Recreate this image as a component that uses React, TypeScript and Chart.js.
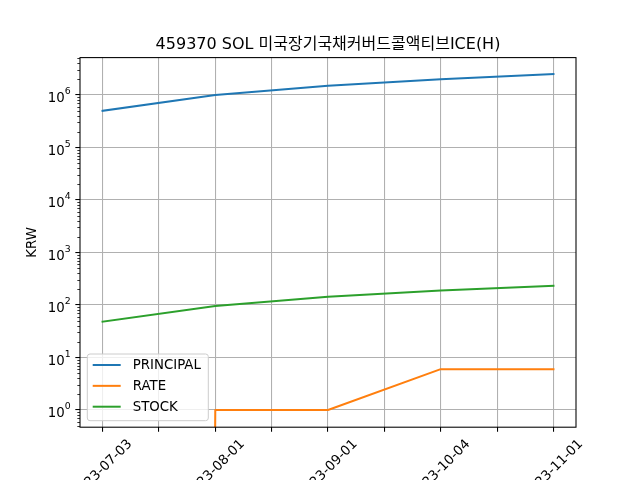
import React, { useEffect, useRef } from "react";
import { Chart, registerables } from "chart.js";

Chart.register(...registerables);

const TITLE = "459370 SOL 미국장기국채커버드콜액티브ICE(H)";
const Y_LABEL = "KRW";
const dates = ["2023-07-03", "2023-08-01", "2023-09-01", "2023-10-04", "2023-11-01"];
const principal = [500000, 1000000, 1500000, 2000000, 2500000];
const rate = [0, 1, 1, 6, 6];
const stock = [48, 96, 143, 188, 233];
const seriesNames = ["PRINCIPAL", "RATE", "STOCK"];
const seriesColors = ["#1f77b4", "#ff7f0e", "#2ca02c"];
const yDecades = [1, 10, 100, 1000, 10000, 100000, 1000000];
const xTickSteps = [0, 0.5, 1, 1.5, 2, 2.5, 3, 3.5, 4];

const FONT = "'DejaVu Sans', 'Noto Sans CJK KR', sans-serif";

// matplotlib clips non-positive values on a log axis to a tiny number
const logClip = (v: number) => (v > 0 ? v : 1e-300);

const decor = {
  id: "decor",
  afterDatasetsDraw(chart: any) {
    const { ctx, chartArea: a, scales } = chart;
    const xs = scales.x;
    const ys = scales.y;
    ctx.save();
    // frame
    ctx.strokeStyle = "#000";
    ctx.lineWidth = 1.07;
    ctx.strokeRect(a.left, a.top, a.right - a.left, a.bottom - a.top);
    // minor y ticks
    ctx.lineWidth = 0.8;
    for (let e = -2; e <= 7; e++) {
      for (let s = 2; s <= 9; s++) {
        const v = s * Math.pow(10, e);
        if (v < ys.min || v > ys.max) continue;
        const py = Math.round(ys.getPixelForValue(v)) + 0.5;
        ctx.beginPath();
        ctx.moveTo(a.left - 2.67, py);
        ctx.lineTo(a.left, py);
        ctx.stroke();
      }
    }
    ctx.fillStyle = "#000";
    // y tick labels 10^n
    yDecades.forEach((v) => {
      const py = ys.getPixelForValue(v);
      const exp = String(Math.round(Math.log10(v)));
      ctx.font = `13.33px ${FONT}`;
      const w1 = ctx.measureText("10").width;
      ctx.font = `9.33px ${FONT}`;
      const w2 = ctx.measureText(exp).width;
      const right = a.left - 4.67 - 4.67;
      ctx.textAlign = "left";
      ctx.textBaseline = "alphabetic";
      ctx.font = `13.33px ${FONT}`;
      ctx.fillText("10", right - w1 - w2, py + 7.3);
      ctx.font = `9.33px ${FONT}`;
      ctx.fillText(exp, right - w2, py - 0.5);
    });
    // x tick labels, rotated 45, centered
    ctx.font = `13.33px ${FONT}`;
    dates.forEach((d, i) => {
      const px = xs.getPixelForValue(i);
      const w = ctx.measureText(d).width;
      const h = 15.5;
      const half = ((w + h) * Math.SQRT1_2) / 2;
      const cy = a.bottom + 4.67 + 4.67 + half;
      ctx.save();
      ctx.translate(px, cy);
      ctx.rotate(-Math.PI / 4);
      ctx.textAlign = "center";
      ctx.textBaseline = "middle";
      ctx.fillText(d, 0, 0);
      ctx.restore();
    });
    // y axis label
    ctx.save();
    ctx.translate(32.5, (a.top + a.bottom) / 2);
    ctx.rotate(-Math.PI / 2);
    ctx.textAlign = "center";
    ctx.textBaseline = "middle";
    ctx.font = `13.33px ${FONT}`;
    ctx.fillText(Y_LABEL, 0, 0);
    ctx.restore();
    // title
    ctx.font = `16px ${FONT}`;
    ctx.textAlign = "center";
    ctx.textBaseline = "alphabetic";
    ctx.fillText(TITLE, (a.left + a.right) / 2, 49);
    ctx.restore();
  },
  afterDraw(chart: any) {
    const { ctx, chartArea: a } = chart;
    ctx.save();
    const x0 = a.left + 7.3;
    const y0 = a.bottom - 73.2;
    const w = 121;
    const h = 66.7;
    ctx.beginPath();
    ctx.roundRect(x0, y0, w, h, 2.7);
    ctx.fillStyle = "rgba(255,255,255,0.8)";
    ctx.fill();
    ctx.strokeStyle = "#cccccc";
    ctx.lineWidth = 1;
    ctx.stroke();
    chart.data.datasets.forEach((ds: any, i: number) => {
      const yy = y0 + 11 + i * 20.85;
      ctx.strokeStyle = ds.borderColor;
      ctx.lineWidth = 2;
      ctx.lineCap = "butt";
      ctx.beginPath();
      ctx.moveTo(x0 + 5.4, yy);
      ctx.lineTo(x0 + 33.4, yy);
      ctx.stroke();
      ctx.fillStyle = "#000";
      ctx.font = `13.33px ${FONT}`;
      ctx.textAlign = "left";
      ctx.textBaseline = "middle";
      ctx.fillText(ds.label, x0 + 45.4, yy + 0.5);
    });
    ctx.restore();
  },
};

export default function App() {
  const ref = useRef<HTMLCanvasElement | null>(null);
  useEffect(() => {
    document.body.style.margin = "0";
    const canvas = ref.current;
    if (!canvas) return;
    const series = [principal, rate, stock];
    const chart = new Chart(canvas, {
      type: "line",
      data: {
        datasets: series.map((vals, si) => ({
          label: seriesNames[si],
          data: vals.map((v, i) => ({ x: i, y: logClip(v) })),
          borderColor: seriesColors[si],
          backgroundColor: seriesColors[si],
          borderWidth: 2,
          pointRadius: 0,
          tension: 0,
          borderJoinStyle: "round",
          borderCapStyle: "square",
          fill: false,
        })),
      },
      options: {
        animation: false,
        responsive: false,
        devicePixelRatio: 1,
        layout: { padding: { top: 57.6, right: 64, left: 0, bottom: 0 } },
        plugins: {
          legend: { display: false },
          title: { display: false },
          tooltip: { enabled: false },
        },
        scales: {
          x: {
            type: "linear",
            min: -0.2,
            max: 4.2,
            afterBuildTicks: (s: any) => {
              s.ticks = xTickSteps.map((v) => ({ value: v }));
            },
            afterFit: (s: any) => {
              s.height = 52.8;
            },
            ticks: { display: false },
            grid: {
              color: "#b0b0b0",
              lineWidth: 1.07,
              tickColor: "#000",
              tickLength: 4.67,
              tickWidth: 1.07,
              drawTicks: true,
            },
            border: { display: false },
          },
          y: {
            type: "logarithmic",
            min: 0.47,
            max: 5.15e6,
            afterBuildTicks: (s: any) => {
              s.ticks = yDecades.map((v) => ({ value: v, major: true }));
            },
            afterFit: (s: any) => {
              s.width = 80;
            },
            ticks: { display: false },
            grid: {
              color: "#b0b0b0",
              lineWidth: 1.07,
              tickColor: "#000",
              tickLength: 4.67,
              tickWidth: 1.07,
              drawTicks: true,
            },
            border: { display: false },
          },
        },
      } as any,
      plugins: [decor],
    });
    return () => chart.destroy();
  }, []);
  return (
    <div style={{ width: 640, height: 480 }}>
      <canvas ref={ref} width={640} height={480} style={{ display: "block" }} />
    </div>
  );
}
